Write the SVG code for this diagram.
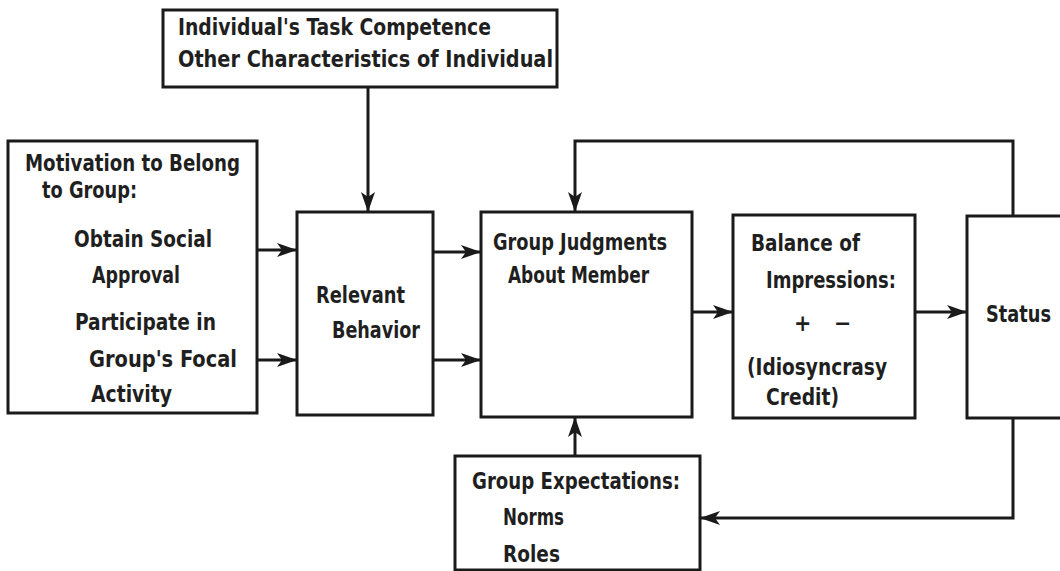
<svg xmlns="http://www.w3.org/2000/svg" width="1060" height="571" viewBox="0 0 1060 571">
<style>
.box{fill:#fff;stroke:#1a1a1a;stroke-width:3}
.ln{fill:none;stroke:#1a1a1a;stroke-width:3}
text{font-family:"DejaVu Sans Condensed","Liberation Sans Narrow","Liberation Sans",sans-serif;font-size:23px;font-weight:bold;fill:#1f1f1f}
</style>
<defs>
<marker id="ah" viewBox="0 0 20 14" refX="19" refY="7" markerWidth="20" markerHeight="14" markerUnits="userSpaceOnUse" orient="auto">
<path d="M0,0 L20,7 L0,14 L5,7 Z" fill="#1a1a1a"/>
</marker>
</defs>
<rect width="1060" height="571" fill="#fff"/>
<g id="connectors">
<line class="ln" x1="368" y1="87" x2="368" y2="211" marker-end="url(#ah)"/>
<line class="ln" x1="257" y1="250" x2="296" y2="250" marker-end="url(#ah)"/>
<line class="ln" x1="257" y1="360" x2="296" y2="360" marker-end="url(#ah)"/>
<line class="ln" x1="433" y1="252" x2="480" y2="252" marker-end="url(#ah)"/>
<line class="ln" x1="433" y1="360" x2="480" y2="360" marker-end="url(#ah)"/>
<line class="ln" x1="692" y1="312" x2="732" y2="312" marker-end="url(#ah)"/>
<line class="ln" x1="915" y1="312" x2="966" y2="312" marker-end="url(#ah)"/>
<polyline class="ln" points="1013,216 1013,141 575,141 575,211" marker-end="url(#ah)"/>
<polyline class="ln" points="1013,418 1013,518 701,518" marker-end="url(#ah)"/>
<line class="ln" x1="575" y1="456" x2="575" y2="418" marker-end="url(#ah)"/>
</g>
<g id="top-box">
<rect class="box" x="163" y="10" width="394" height="77"/>
<text x="178" y="35" textLength="313" lengthAdjust="spacingAndGlyphs">Individual's Task Competence</text>
<text x="178" y="67" textLength="375" lengthAdjust="spacingAndGlyphs">Other Characteristics of Individual</text>
</g>
<g id="motivation">
<rect class="box" x="8" y="141" width="249" height="272"/>
<text x="25" y="171" textLength="215" lengthAdjust="spacingAndGlyphs">Motivation to Belong</text>
<text x="42" y="198" textLength="95" lengthAdjust="spacingAndGlyphs">to Group:</text>
<text x="74" y="247" textLength="138" lengthAdjust="spacingAndGlyphs">Obtain Social</text>
<text x="92" y="283" textLength="88" lengthAdjust="spacingAndGlyphs">Approval</text>
<text x="75" y="330" textLength="141" lengthAdjust="spacingAndGlyphs">Participate in</text>
<text x="89" y="367" textLength="148" lengthAdjust="spacingAndGlyphs">Group's Focal</text>
<text x="91" y="402" textLength="81" lengthAdjust="spacingAndGlyphs">Activity</text>
</g>
<g id="relevant">
<rect class="box" x="297" y="212" width="136" height="203"/>
<text x="316" y="303" textLength="89" lengthAdjust="spacingAndGlyphs">Relevant</text>
<text x="332" y="338" textLength="88" lengthAdjust="spacingAndGlyphs">Behavior</text>
</g>
<g id="judgments">
<rect class="box" x="481" y="212" width="211" height="205"/>
<text x="493" y="250" textLength="174" lengthAdjust="spacingAndGlyphs">Group Judgments</text>
<text x="508" y="283" textLength="141" lengthAdjust="spacingAndGlyphs">About Member</text>
</g>
<g id="balance">
<rect class="box" x="733" y="215" width="182" height="203"/>
<text x="751" y="251" textLength="109" lengthAdjust="spacingAndGlyphs">Balance of</text>
<text x="766" y="288" textLength="130" lengthAdjust="spacingAndGlyphs">Impressions:</text>
<text x="794" y="331">+</text>
<text x="834" y="331">−</text>
<text x="747" y="375" textLength="140" lengthAdjust="spacingAndGlyphs">(Idiosyncrasy</text>
<text x="766" y="405" textLength="73" lengthAdjust="spacingAndGlyphs">Credit)</text>
</g>
<g id="status">
<rect class="box" x="967" y="216" width="110" height="202"/>
<text x="986" y="322" textLength="65" lengthAdjust="spacingAndGlyphs">Status</text>
</g>
<g id="expectations">
<rect class="box" x="455" y="456" width="245" height="114"/>
<text x="472" y="489" textLength="208" lengthAdjust="spacingAndGlyphs">Group Expectations:</text>
<text x="503" y="525" textLength="61" lengthAdjust="spacingAndGlyphs">Norms</text>
<text x="503" y="562" textLength="57" lengthAdjust="spacingAndGlyphs">Roles</text>
</g>
</svg>
